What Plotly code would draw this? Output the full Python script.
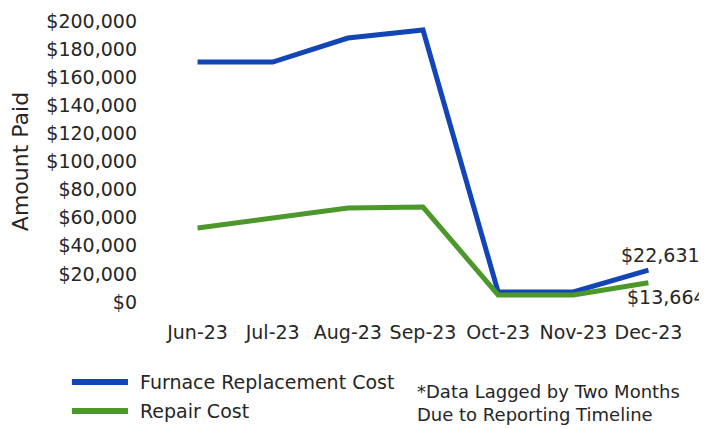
import plotly.graph_objects as go

months = ["Jun-23", "Jul-23", "Aug-23", "Sep-23", "Oct-23", "Nov-23", "Dec-23"]
furnace = [170800, 170800, 187900, 193600, 7100, 7100, 22631]
repair = [52700, 59800, 66900, 67600, 5000, 5000, 13664]
series_names = ["Furnace Replacement Cost", "Repair Cost"]
y_ticks = list(range(0, 200001, 20000))
y_tick_text = ["$" + format(v, ",") for v in y_ticks]

BLUE = "#1246b6"
GREEN = "#4c982b"
FONT = "DejaVu Sans"
TXT = "#262626"

fig = go.Figure()
fig.add_trace(go.Scatter(x=months, y=furnace, mode="lines", name=series_names[0],
                         line=dict(color=BLUE, width=5), showlegend=False))
fig.add_trace(go.Scatter(x=months, y=repair, mode="lines", name=series_names[1],
                         line=dict(color=GREEN, width=5), showlegend=False))

# end-point data labels
fig.add_annotation(x=months[-1], y=furnace[-1], text="$" + format(furnace[-1], ","),
                   showarrow=False, xanchor="center", yanchor="middle", yshift=15, xshift=12,
                   font=dict(family=FONT, size=19, color=TXT))
fig.add_annotation(x=months[-1], y=repair[-1], text="$" + format(repair[-1], ","),
                   showarrow=False, xanchor="center", yanchor="middle", yshift=-14, xshift=18,
                   font=dict(family=FONT, size=19, color=TXT))

# legend drawn as line samples + labels below the plot
legend_rows = [(-0.2847, BLUE), (-0.3879, GREEN)]
for (ly, col), name in zip(legend_rows, series_names):
    fig.add_shape(type="line", xref="paper", yref="paper", x0=-0.1675, x1=-0.0609,
                  y0=ly, y1=ly, line=dict(color=col, width=6))
    fig.add_annotation(xref="paper", yref="paper", x=-0.0419, y=ly, xanchor="left",
                       yanchor="middle", text=name, showarrow=False,
                       font=dict(family=FONT, size=19, color=TXT))

fig.add_annotation(xref="paper", yref="paper", x=0.4853, y=-0.358, xanchor="left",
                   yanchor="middle",
                   text="*Data Lagged by Two Months<br>Due to Reporting Timeline",
                   showarrow=False, align="left", font=dict(family=FONT, size=18, color=TXT))

fig.update_layout(
    width=699, height=421,
    margin=dict(l=152, r=21, t=13, b=127, autoexpand=False),
    paper_bgcolor="white", plot_bgcolor="white",
    font=dict(family=FONT, size=19, color=TXT),
    showlegend=False,
    xaxis=dict(type="category", range=[-0.5, 6.5], showgrid=False, showline=False,
               zeroline=False, ticks="", tickfont=dict(size=19), ticklabelstandoff=17),
    yaxis=dict(range=[0, 200000], tickvals=y_ticks, ticktext=y_tick_text,
               showgrid=False, zeroline=False, showline=False, ticks="",
               tickfont=dict(size=19), ticklabelstandoff=22,
               title=dict(text="Amount Paid", font=dict(size=22), standoff=12)),
)

fig.write_html("out.html")
